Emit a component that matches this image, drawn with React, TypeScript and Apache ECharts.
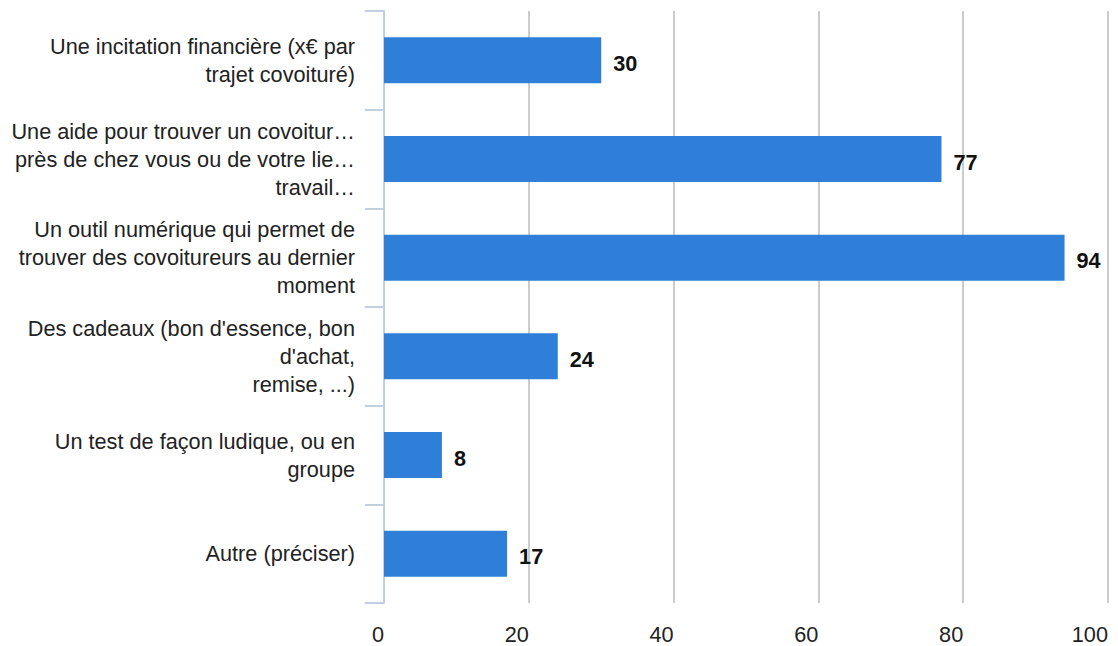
import React, { useEffect, useRef } from "react";
import * as echarts from "echarts";

const categories = [
  "Une incitation financière (x€ par\ntrajet covoituré)",
  "Une aide pour trouver un covoitur…\nprès de chez vous ou de votre lie…\ntravail…",
  "Un outil numérique qui permet de\ntrouver des covoitureurs au dernier\nmoment",
  "Des cadeaux (bon d'essence, bon\nd'achat,\nremise, ...)",
  "Un test de façon ludique, ou en\ngroupe",
  "Autre (préciser)",
];
const values = [30, 77, 94, 24, 8, 17];
const xTicks = { min: 0, max: 100, interval: 20 };

const FONT = "'Liberation Sans', Arial, sans-serif";

export default function App() {
  const ref = useRef<HTMLDivElement>(null);
  useEffect(() => {
    if (!ref.current) return;
    const chart = echarts.init(ref.current, null, { renderer: "svg" });
    chart.setOption({
      animation: false,
      backgroundColor: "#ffffff",
      textStyle: { fontFamily: FONT },
      grid: { left: 384, right: 10, top: 11, bottom: 43, containLabel: false },
      xAxis: {
        type: "value",
        min: xTicks.min,
        max: xTicks.max,
        interval: xTicks.interval,
        axisLine: { show: false },
        axisTick: { show: false },
        splitLine: { show: true, lineStyle: { color: "#cccccc", width: 2 } },
        axisLabel: {
          color: "#222222",
          fontSize: 21.7,
          fontFamily: FONT,
          align: "right",
          margin: 20,
        },
      },
      yAxis: {
        type: "category",
        inverse: true,
        data: categories,
        axisLine: { show: true, lineStyle: { color: "#C0D0E0", width: 2 } },
        axisTick: { show: true, length: 19, lineStyle: { color: "#C0D0E0", width: 2 } },
        splitLine: { show: false },
        axisLabel: {
          color: "#222222",
          fontSize: 21.7,
          lineHeight: 28,
          fontFamily: FONT,
          margin: 29,
          align: "right",
          padding: [7, 0, 0, 0],
        },
      },
      series: [
        {
          type: "bar",
          data: values,
          barWidth: 46,
          itemStyle: { color: "#2f7ed8" },
          label: {
            show: true,
            position: "right",
            distance: 12,
            offset: [0, 3],
            color: "#111111",
            fontWeight: "bold",
            fontSize: 21.7,
            fontFamily: FONT,
          },
        },
      ],
    });
    return () => chart.dispose();
  }, []);
  return <div ref={ref} style={{ width: 1118, height: 646, position: "absolute", left: 0, top: 0 }} />;
}
